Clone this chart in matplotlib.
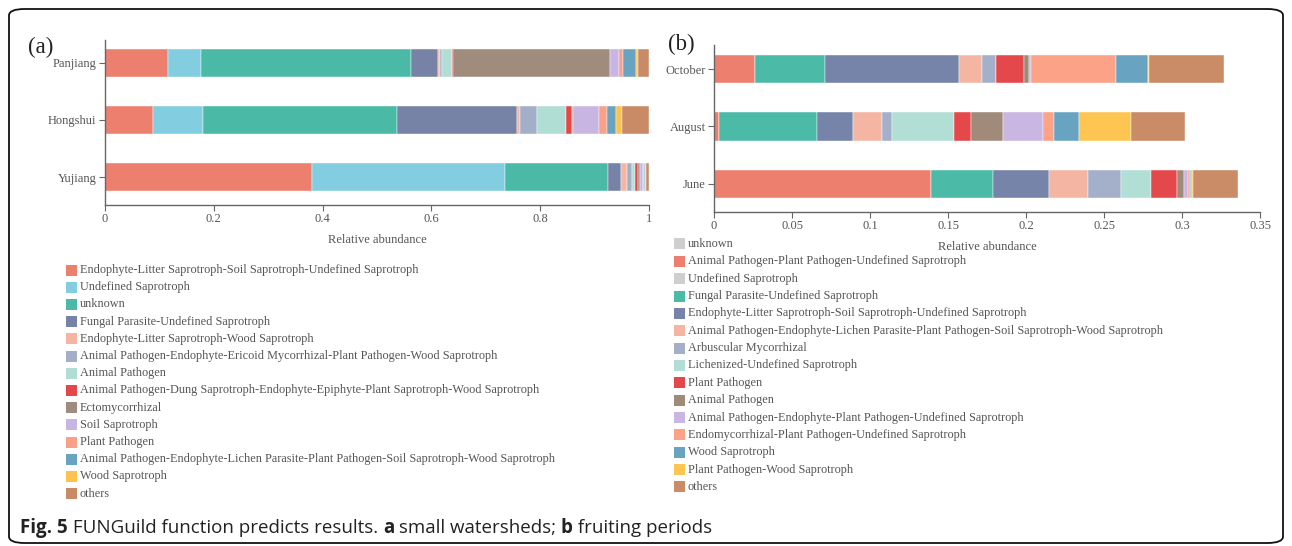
import numpy as np
import matplotlib
matplotlib.use("Agg")
import matplotlib.pyplot as plt
from matplotlib.patches import FancyBboxPatch, Rectangle

# ---- panel (a): small watersheds ----
sites = ["Panjiang", "Hongshui", "Yujiang"]
guilds_a = [
    "Endophyte-Litter Saprotroph-Soil Saprotroph-Undefined Saprotroph",
    "Undefined Saprotroph",
    "unknown",
    "Fungal Parasite-Undefined Saprotroph",
    "Endophyte-Litter Saprotroph-Wood Saprotroph",
    "Animal Pathogen-Endophyte-Ericoid Mycorrhizal-Plant Pathogen-Wood Saprotroph",
    "Animal Pathogen",
    "Animal Pathogen-Dung Saprotroph-Endophyte-Epiphyte-Plant Saprotroph-Wood Saprotroph",
    "Ectomycorrhizal",
    "Soil Saprotroph",
    "Plant Pathogen",
    "Animal Pathogen-Endophyte-Lichen Parasite-Plant Pathogen-Soil Saprotroph-Wood Saprotroph",
    "Wood Saprotroph",
    "others",
]
panjiang = [0.116, 0.060, 0.387, 0.049, 0.003, 0.005, 0.017, 0.003, 0.288, 0.017, 0.007, 0.024, 0.004, 0.020]
hongshui = [0.089, 0.092, 0.356, 0.221, 0.004, 0.032, 0.053, 0.012, 0.001, 0.049, 0.013, 0.017, 0.011, 0.050]
yujiang = [0.380, 0.355, 0.189, 0.025, 0.010, 0.009, 0.007, 0.005, 0.004, 0.005, 0.002, 0.002, 0.001, 0.006]
colors_a = ["#ED7F6F", "#82CDE0", "#4ABAA7", "#7683A7", "#F5B5A2", "#A3AFC9", "#B0DED4",
            "#E4474A", "#A08C7C", "#C8B5E2", "#F9A088", "#68A3C1", "#FDC350", "#C98B66"]

# ---- panel (b): fruiting periods ----
periods = ["October", "August", "June"]
guilds_b = [
    "unknown",
    "Animal Pathogen-Plant Pathogen-Undefined Saprotroph",
    "Undefined Saprotroph",
    "Fungal Parasite-Undefined Saprotroph",
    "Endophyte-Litter Saprotroph-Soil Saprotroph-Undefined Saprotroph",
    "Animal Pathogen-Endophyte-Lichen Parasite-Plant Pathogen-Soil Saprotroph-Wood Saprotroph",
    "Arbuscular Mycorrhizal",
    "Lichenized-Undefined Saprotroph",
    "Plant Pathogen",
    "Animal Pathogen",
    "Animal Pathogen-Endophyte-Plant Pathogen-Undefined Saprotroph",
    "Endomycorrhizal-Plant Pathogen-Undefined Saprotroph",
    "Wood Saprotroph",
    "Plant Pathogen-Wood Saprotroph",
    "others",
]
# unknown and Undefined Saprotroph are switched off in this panel (zero width)
october = [0, 0.026, 0, 0.045, 0.086, 0.015, 0.009, 0.000, 0.018, 0.003, 0.001, 0.055, 0.020, 0.001, 0.048]
august = [0, 0.003, 0, 0.063, 0.023, 0.019, 0.006, 0.040, 0.011, 0.020, 0.026, 0.007, 0.016, 0.033, 0.035]
june = [0, 0.139, 0, 0.040, 0.036, 0.025, 0.021, 0.019, 0.017, 0.004, 0.003, 0.001, 0.001, 0.001, 0.029]
colors_b = ["#CFCFCF", "#ED7F6F", "#CFCFCF", "#4BBBA8", "#7584A8", "#F4B6A3", "#A4AFCA", "#B1DFD5",
            "#E4484B", "#A08B7B", "#C9B6E3", "#FBA287", "#68A4C2", "#FEC552", "#C98C66"]

serif = "Liberation Serif"
txt_col = "#555555"
ax_col = "#666666"

fig = plt.figure(figsize=(12.92, 5.46), dpi=100)
W, H = 1292, 546


def fx(px):
    return px / W


def fy(py):
    return 1 - py / H


def stacked(ax, rows, colors, labels, xmax, xticks, xticklabels):
    ypos = np.arange(len(labels))[::-1]
    left = np.zeros(len(labels))
    data = np.array(rows)
    for j in range(data.shape[1]):
        vals = data[:, j]
        ax.barh(ypos, vals, left=left, height=0.5, color=colors[j],
                edgecolor="white", linewidth=0.3)
        left += vals
    ax.set_yticks(ypos)
    ax.set_yticklabels(labels, family=serif, fontsize=9, color=txt_col)
    ax.set_xlim(0, xmax)
    ax.set_xticks(xticks)
    ax.set_xticklabels(xticklabels, family=serif, fontsize=9, color=txt_col)
    for s in ["top", "right"]:
        ax.spines[s].set_visible(False)
    for s in ["left", "bottom"]:
        ax.spines[s].set_color(ax_col)
        ax.spines[s].set_linewidth(1.0)
    ax.tick_params(axis="both", length=4, width=0.8, color=ax_col, pad=2)
    ax.set_xlabel("Relative abundance", family=serif, fontsize=9, color=txt_col, labelpad=6)


ax1 = fig.add_axes([fx(105), fy(205), fx(649) - fx(105), fy(40) - fy(205)])
stacked(ax1, [panjiang, hongshui, yujiang], colors_a, sites, 1.0,
        [0, 0.2, 0.4, 0.6, 0.8, 1.0], ["0", "0.2", "0.4", "0.6", "0.8", "1"])
ax1.set_ylim(-0.49, 2.4)

ax2 = fig.add_axes([fx(714), fy(212), fx(1260) - fx(714), fy(45) - fy(212)])
stacked(ax2, [october, august, june], colors_b, periods, 0.35,
        [0, 0.05, 0.1, 0.15, 0.2, 0.25, 0.3, 0.35],
        ["0", "0.05", "0.1", "0.15", "0.2", "0.25", "0.3", "0.35"])
ax2.set_ylim(-0.49, 2.42)

fig.text(fx(28), fy(53), "(a)", family=serif, fontsize=16.5, color="#222222", va="baseline")
fig.text(fx(668), fy(50), "(b)", family=serif, fontsize=16.5, color="#222222", va="baseline")


def legend_column(x, y0, step, labels, colors):
    for i, (lab, c) in enumerate(zip(labels, colors)):
        yc = y0 + i * step
        fig.patches.append(Rectangle((fx(x), fy(yc + 5.5)), fx(11), 11 / H,
                                     transform=fig.transFigure, facecolor=c, edgecolor="none"))
        fig.text(fx(x + 14), fy(yc), lab, family=serif, fontsize=8.8, color=txt_col, va="center")


legend_column(66, 270, 17.2, guilds_a, colors_a)
legend_column(674, 244, 17.35, guilds_b, colors_b)

# outer rounded frame
frame = FancyBboxPatch((fx(9), fy(543)), fx(1283) - fx(9), fy(9) - fy(543),
                       boxstyle="round,pad=0,rounding_size=0.012",
                       transform=fig.transFigure, facecolor="none",
                       edgecolor="#111111", linewidth=1.3)
fig.patches.append(frame)

# caption, drawn piece by piece so bold and regular runs sit side by side
caption = [("Fig. 5", "bold"), (" FUNGuild function predicts results. ", "normal"),
           ("a", "bold"), (" small watersheds; ", "normal"),
           ("b", "bold"), (" fruiting periods", "normal")]
renderer = fig.canvas.get_renderer()
x = 20
for piece, weight in caption:
    t = fig.text(fx(x), fy(528), piece, family="Open Sans", fontsize=13.5, fontweight=weight,
                 color="#222222", va="center")
    x += t.get_window_extent(renderer).width

fig.savefig("out.png", dpi=100)
